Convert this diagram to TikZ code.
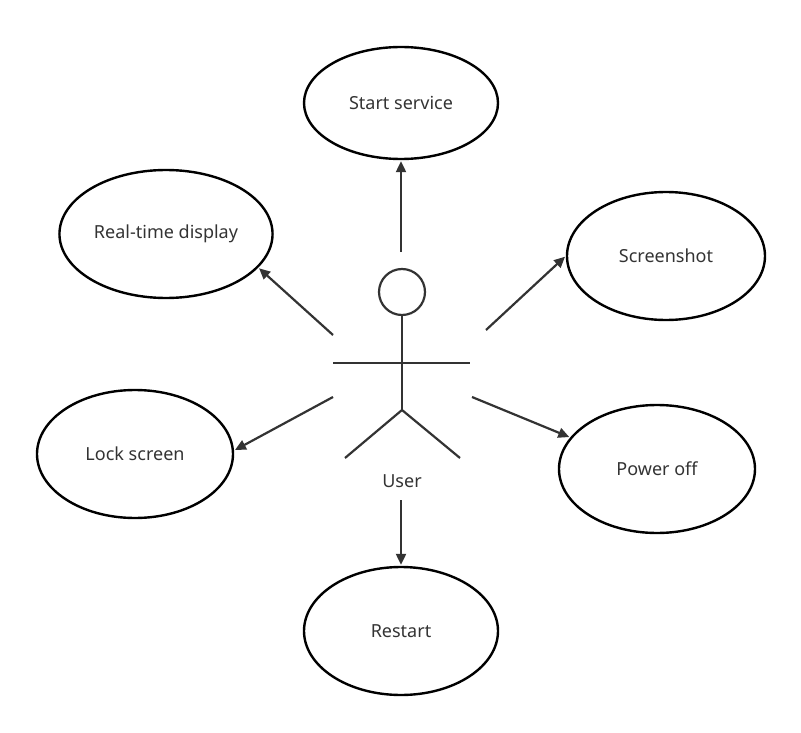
\documentclass[tikz,border=0pt]{standalone}
\usepackage{fontspec}
\setmainfont{Noto Sans}
\usetikzlibrary{shapes.geometric,arrows.meta}
\definecolor{ink}{HTML}{333333}
\tikzset{
x=1pt, y=-1pt,
usecase/.style={ellipse, draw=black, line width=2.4pt, font=\fontsize{18}{21}\selectfont, text=ink},
link/.style={-{Triangle[length=11pt,width=10pt]}, draw=ink, fill=ink, line width=2.2pt, shorten >=1pt},
actor/.style={draw=ink, line width=2.2pt},
}
\begin{document}
\begin{tikzpicture}
    \useasboundingbox (0,0) rectangle (801,733);
    \node[usecase, minimum width=194pt, minimum height=112pt] (start) at (401,103) {Start service};
    \node[usecase, minimum width=198pt, minimum height=128pt] (display) at (166,234) {Real-time display};
    \node[usecase, minimum width=198pt, minimum height=128pt] (shot) at (666,256) {Screenshot};
    \node[usecase, minimum width=196pt, minimum height=128pt] (lock) at (135,454) {Lock screen};
    \node[usecase, minimum width=196pt, minimum height=128pt] (power) at (657,469) {Power off};
    \node[usecase, minimum width=194pt, minimum height=128pt] (restart) at (401,631) {Restart};
    % actor
    \node[circle, actor, minimum size=46pt] (head) at (402,292) {};
    \coordinate (hip) at (402,410);
    \draw[actor] (head.south) -- (hip);
    \draw[actor] (333,363) -- (470,363);
    \draw[actor] (345,458) -- (hip) -- (460,458);
    \node[font=\fontsize{18}{21}\selectfont, text=ink] (user) at (402,481) {User};
    % arrows
    \coordinate (a1) at (401,252);
    \coordinate (a2) at (333,335);
    \coordinate (a3) at (486,330);
    \coordinate (a4) at (333,397);
    \coordinate (a5) at (472,397);
    \coordinate (a6) at (401,500);
    \draw[link] (a1) -- (start);
    \draw[link] (a2) -- (display.-20);
    \draw[link] (a3) -- (shot.180);
    \draw[link] (a4) -- (lock.2);
    \draw[link] (a5) -- (power.160);
    \draw[link] (a6) -- (restart);
\end{tikzpicture}
\end{document}
